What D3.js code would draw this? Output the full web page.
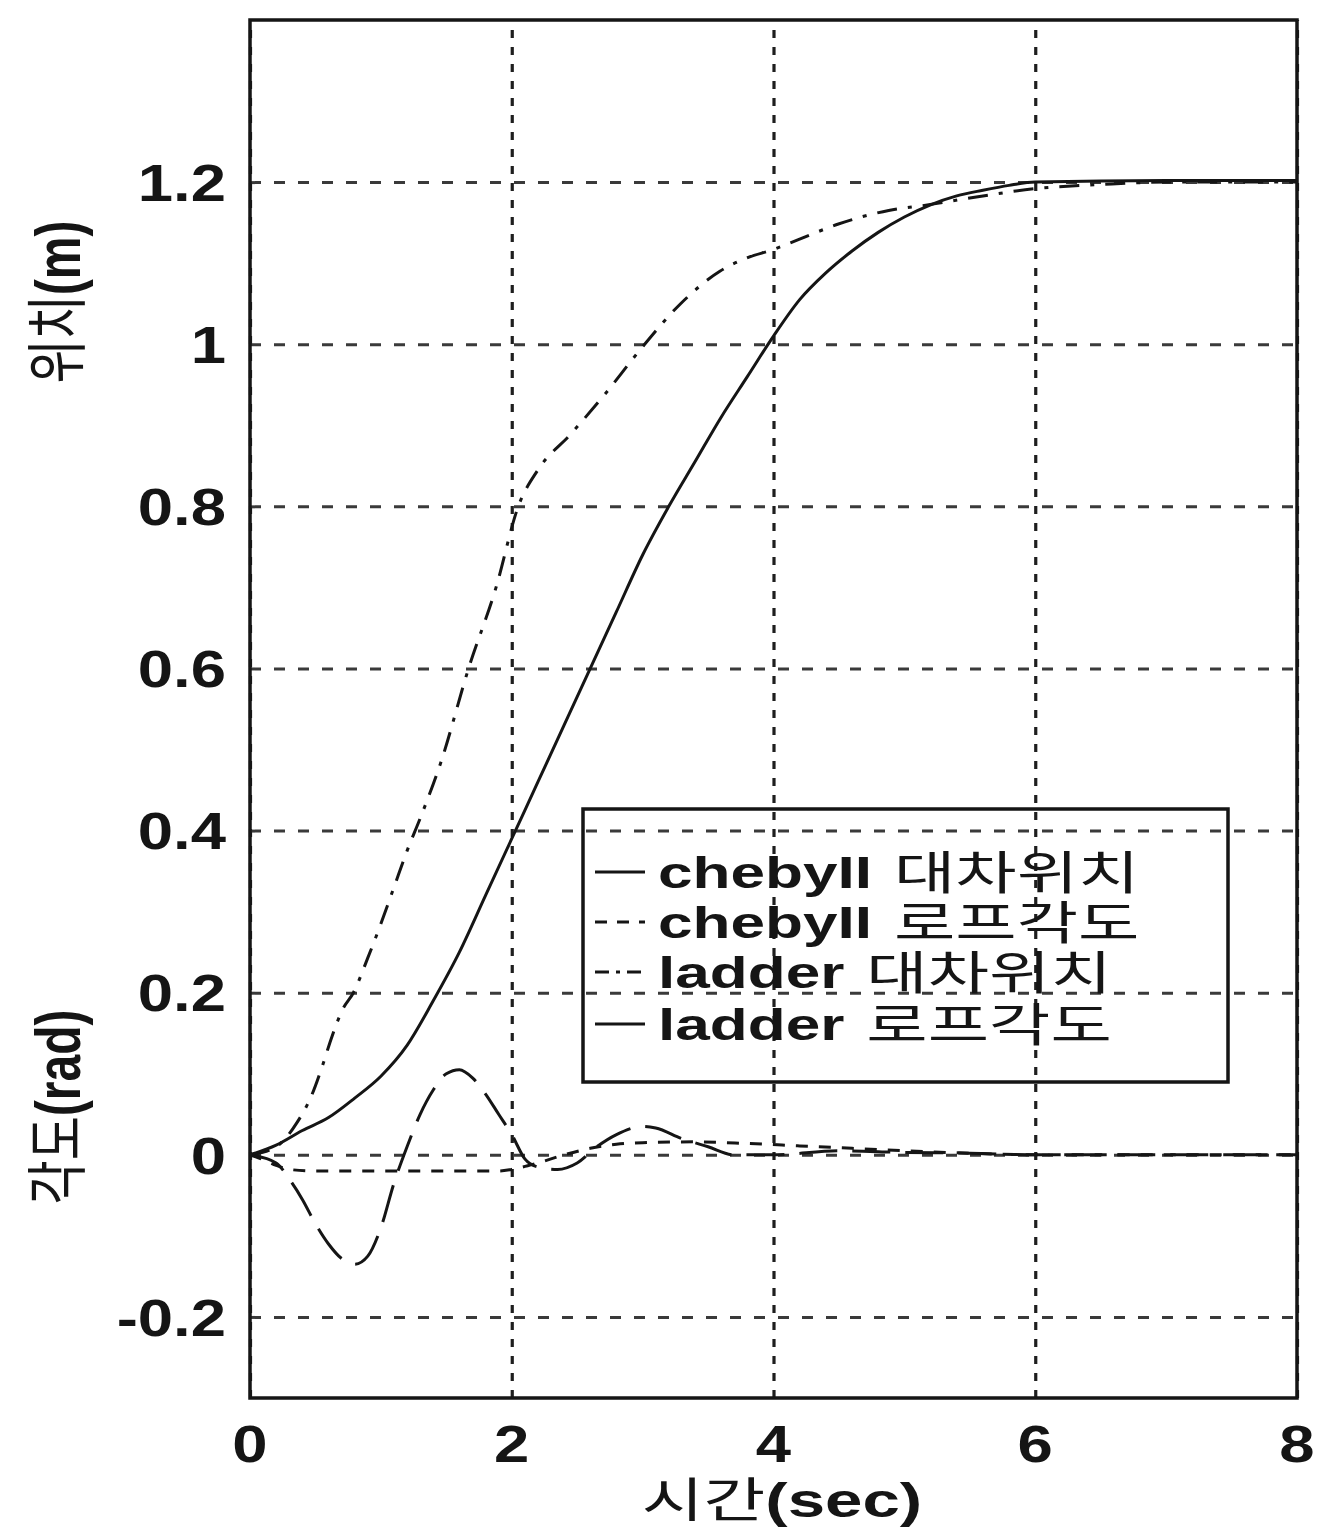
<!DOCTYPE html>
<html>
<head>
<meta charset="utf-8">
<script src="https://cdn.jsdelivr.net/npm/d3@7"></script>
<style>
  body { margin: 0; background: #fff; }
  svg { display: block; }
</style>
</head>
<body>
<svg id="chart" width="1319" height="1536"></svg>
<script>
// ---------------- data ----------------
const xTickValues = [0, 2, 4, 6, 8];
const xTickLabels = ["0", "2", "4", "6", "8"];
const yTickValues = [-0.2, 0, 0.2, 0.4, 0.6, 0.8, 1, 1.2];
const yTickLabels = ["-0.2", "0", "0.2", "0.4", "0.6", "0.8", "1", "1.2"];

// chebyII 대차위치 (solid)
const chebyPosition = [
  [0, 0], [0.2, 0.012], [0.4, 0.03], [0.6, 0.046], [0.8, 0.07], [1.0, 0.097],
  [1.2, 0.135], [1.4, 0.19], [1.6, 0.25], [1.8, 0.32], [2.0, 0.39], [2.2, 0.46],
  [2.4, 0.53], [2.6, 0.6], [2.8, 0.67], [3.0, 0.74], [3.2, 0.8], [3.4, 0.855],
  [3.6, 0.91], [3.8, 0.96], [4.0, 1.01], [4.2, 1.055], [4.4, 1.088], [4.6, 1.115],
  [4.8, 1.138], [5.0, 1.157], [5.2, 1.172], [5.4, 1.183], [5.6, 1.19], [5.8, 1.196],
  [6.0, 1.2], [7.0, 1.202], [8.0, 1.202]
];
// chebyII 로프각도 (short dashes)
const chebyAngle = [
  [0, 0], [0.1, -0.006], [0.2, -0.013], [0.3, -0.018], [0.5, -0.02], [1.0, -0.02],
  [1.5, -0.02], [1.9, -0.02], [2.0, -0.018], [2.2, -0.01], [2.4, 0], [2.6, 0.008],
  [2.8, 0.013], [3.0, 0.015], [3.4, 0.016], [3.8, 0.014], [4.2, 0.011], [4.6, 0.008],
  [5.0, 0.005], [5.5, 0.002], [6.0, 0], [8.0, 0]
];
// ladder 대차위치 (dash-dot)
const ladderPosition = [
  [0, 0], [0.2, 0.01], [0.36, 0.04], [0.47, 0.073], [0.56, 0.113], [0.62, 0.143],
  [0.71, 0.18], [0.79, 0.2], [0.9, 0.243], [1.0, 0.285], [1.1, 0.33], [1.2, 0.375],
  [1.3, 0.415], [1.46, 0.485], [1.67, 0.6], [1.88, 0.7], [2.05, 0.8], [2.2, 0.845],
  [2.45, 0.889], [2.71, 0.938], [3.0, 0.997], [3.29, 1.05], [3.59, 1.09], [3.79, 1.106],
  [4.0, 1.117], [4.19, 1.129], [4.49, 1.148], [4.88, 1.165], [5.14, 1.171], [5.6, 1.183],
  [6.0, 1.192], [6.5, 1.197], [7.0, 1.2], [8.0, 1.2]
];
// ladder 로프각도 (long dashes)
const ladderAngle = [
  [0, 0], [0.2, -0.01], [0.3, -0.03], [0.4, -0.055], [0.5, -0.085], [0.6, -0.11],
  [0.7, -0.128], [0.8, -0.135], [0.9, -0.125], [1.0, -0.09], [1.1, -0.035], [1.2, 0.01],
  [1.3, 0.05], [1.4, 0.08], [1.5, 0.1], [1.6, 0.105], [1.7, 0.095], [1.8, 0.075],
  [1.9, 0.05], [2.0, 0.025], [2.1, -0.005], [2.2, -0.015], [2.35, -0.018], [2.5, -0.01],
  [2.65, 0.01], [2.8, 0.025], [3.0, 0.035], [3.1, 0.033], [3.3, 0.02], [3.5, 0.01],
  [3.7, 0], [4.0, 0], [4.5, 0.005], [5.0, 0.003], [5.5, 0.002], [6.0, 0], [8.0, 0]
];

const legendLatin = ["chebyII", "chebyII", "ladder", "ladder"];
const legendKorean = ["대차위치", "로프각도", "대차위치", "로프각도"];
const xLabelKorean = "시간", xLabelLatin = "(sec)";
const yLabelTopKorean = "위치", yLabelTopLatin = "(m)";
const yLabelBottomKorean = "각도", yLabelBottomLatin = "(rad)";

// ---------------- layout ----------------
const L = 250, R = 1297, T = 20, B = 1398;
const FONT = "'Liberation Sans', Arial, sans-serif";
const KFONT = "'Noto Sans CJK KR', sans-serif";
const INK = "#151515";

const svg = d3.select("#chart");
const x = d3.scaleLinear().domain([0, 8]).range([L, R]);
const y = d3.scaleLinear().domain([-0.3, 1.4]).range([B, T]);

// grid (via axes)
const gx = svg.append("g").attr("transform", `translate(0,${B})`)
  .call(d3.axisBottom(x).tickValues(xTickValues).tickSize(-(B - T)).tickFormat(""));
gx.select(".domain").remove();
gx.selectAll(".tick line").attr("stroke", "#1e1e1e").attr("stroke-width", 3.2)
  .attr("stroke-dasharray", "8,9");

const gy = svg.append("g").attr("transform", `translate(${L},0)`)
  .call(d3.axisLeft(y).tickValues(yTickValues).tickSize(-(R - L)).tickFormat(""));
gy.select(".domain").remove();
gy.selectAll(".tick line").attr("stroke", "#3a3a3a").attr("stroke-width", 3)
  .attr("stroke-dasharray", "11,13");

// tick labels
svg.append("g").selectAll("text").data(xTickValues).join("text")
  .attr("transform", d => `translate(${x(d)},1443) scale(1.22,1)`)
  .attr("text-anchor", "middle").attr("dy", "0.36em")
  .attr("font-family", FONT).attr("font-weight", "bold").attr("font-size", 52)
  .attr("fill", INK)
  .text((d, i) => xTickLabels[i]);

svg.append("g").selectAll("text").data(yTickValues).join("text")
  .attr("transform", d => `translate(${L - 24},${y(d)}) scale(1.22,1)`)
  .attr("text-anchor", "end").attr("dy", "0.36em")
  .attr("font-family", FONT).attr("font-weight", "bold").attr("font-size", 52)
  .attr("fill", INK)
  .text((d, i) => yTickLabels[i]);

// curves
const line = d3.line().x(d => x(d[0])).y(d => y(d[1])).curve(d3.curveMonotoneX);
const series = [
  { data: ladderPosition, dash: "20,11,4,11" },
  { data: chebyAngle, dash: "12,11" },
  { data: ladderAngle, dash: "38,15" },
  { data: chebyPosition, dash: null }
];
series.forEach(s => {
  svg.append("path").datum(s.data).attr("d", line)
    .attr("fill", "none").attr("stroke", INK).attr("stroke-width", 3)
    .attr("stroke-dasharray", s.dash);
});

// frame
svg.append("rect").attr("x", L).attr("y", T).attr("width", R - L).attr("height", B - T)
  .attr("fill", "none").attr("stroke", INK).attr("stroke-width", 3.5);

// legend
const lg = svg.append("g");
lg.append("rect").attr("x", 583).attr("y", 809).attr("width", 645).attr("height", 273)
  .attr("fill", "none").attr("stroke", INK).attr("stroke-width", 3.5);
const legendDash = [null, "12,10", "14,7,4,7", null];
const rowY = [872, 922, 972, 1024];
const SX = 1.38;
legendLatin.forEach((lab, i) => {
  lg.append("line").attr("x1", 595).attr("x2", 645).attr("y1", rowY[i]).attr("y2", rowY[i])
    .attr("stroke", INK).attr("stroke-width", 3).attr("stroke-dasharray", legendDash[i]);
  const t = lg.append("text")
    .attr("transform", `translate(658,${rowY[i]}) scale(${SX},1)`)
    .attr("dy", "0.36em").attr("font-family", FONT).attr("font-weight", "bold")
    .attr("font-size", 45).attr("fill", INK).text(lab);
  const w = t.node().getComputedTextLength() * SX;
  lg.append("text")
    .attr("transform", `translate(${658 + w + 22},${rowY[i]}) scale(1.45,1)`)
    .attr("dy", "0.36em").attr("font-family", KFONT).attr("font-weight", 400)
    .attr("font-size", 46).attr("fill", INK).text(legendKorean[i]);
});

// axis titles
function mixedLabel(k, l, tf, size, sx) {
  const g = svg.append("g").attr("transform", tf);
  const kt = g.append("text").attr("font-family", KFONT).attr("font-weight", 400)
    .attr("font-size", size).attr("dy", "0.36em").attr("fill", INK)
    .attr("transform", `scale(${sx},1)`).text(k);
  const lt = g.append("text").attr("font-family", FONT).attr("font-weight", "bold")
    .attr("font-size", size).attr("dy", "0.36em").attr("fill", INK).text(l);
  const kw = kt.node().getComputedTextLength() * sx;
  const lw = lt.node().getComputedTextLength() * sx;
  const start = -(kw + lw) / 2;
  kt.attr("transform", `translate(${start},0) scale(${sx},1)`);
  lt.attr("transform", `translate(${start + kw},0) scale(${sx},1)`);
  return g;
}
mixedLabel(xLabelKorean, xLabelLatin, "translate(782,1500)", 48, 1.4);
mixedLabel(yLabelTopKorean, yLabelTopLatin, "translate(58,302) scale(1.3,1) rotate(-90)", 48, 1.0);
mixedLabel(yLabelBottomKorean, yLabelBottomLatin, "translate(58,1107) scale(1.3,1) rotate(-90)", 48, 1.0);
</script>
</body>
</html>
